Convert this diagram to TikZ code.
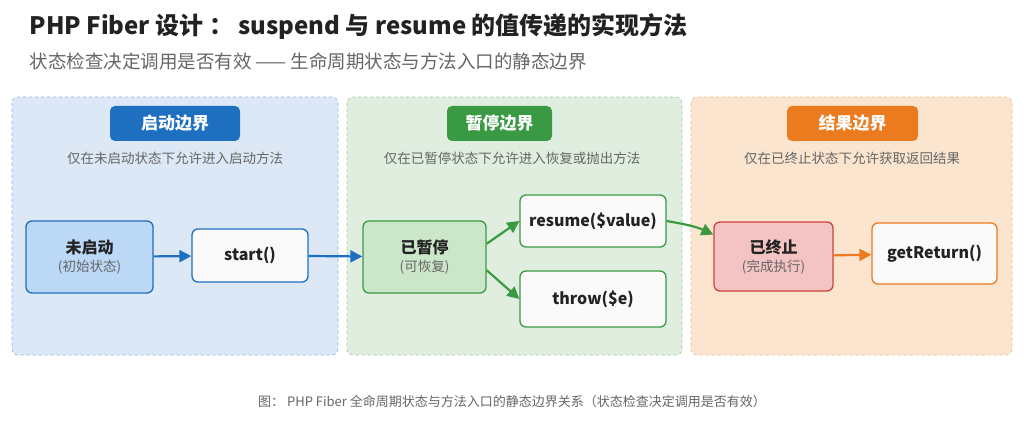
\documentclass[tikz,border=0pt]{standalone}
\usepackage{fontspec}
\setmainfont{Noto Sans CJK SC}
\usetikzlibrary{arrows.meta}
\definecolor{bluef}{HTML}{DCE8F5}\definecolor{blued}{HTML}{1E6FC0}\definecolor{bluel}{HTML}{BCD8F7}
\definecolor{greenf}{HTML}{E0EEDF}\definecolor{greend}{HTML}{3A9A44}\definecolor{greenl}{HTML}{CBE6C8}
\definecolor{orangef}{HTML}{FBE5CF}\definecolor{oranged}{HTML}{EC7A1E}
\definecolor{redf}{HTML}{F4C3C3}\definecolor{redd}{HTML}{D0423A}
\definecolor{txt}{HTML}{222222}\definecolor{gr}{HTML}{666666}
\newcommand\subtxt[1]{{\fontsize{13.5}{16}\selectfont\mdseries\color{gr}#1}}
\begin{document}
\begin{tikzpicture}[x=1pt,y=-1pt,
 panel/.style={draw=#1,dashed,rounded corners=6pt,line width=0.6pt},
 badge/.style={fill=#1,rounded corners=5pt,text=white,font=\fontsize{17}{17}\selectfont\bfseries,minimum width=130pt,minimum height=35pt},
 desc/.style={text=gr,font=\fontsize{13.5}{13.5}\selectfont},
 box/.style={draw=#1,line width=1.3pt,rounded corners=6pt,align=center,text=txt,font=\fontsize{16}{19}\selectfont\bfseries},
 arr/.style={draw=#1,line width=2.2pt,-{Triangle[length=12pt,width=12pt]}}]
\fill[white] (0,0) rectangle (1024,427);
\useasboundingbox (0,0) rectangle (1024,427);
\node[anchor=west,text=txt,font=\fontsize{24}{24}\selectfont\bfseries] (title) at (26,27) {PHP Fiber 设计 ： suspend 与 resume 的值传递的实现方法};
\node[anchor=west,text=gr,font=\fontsize{18.5}{18.5}\selectfont] (subt) at (26,61) {状态检查决定调用是否有效 —— 生命周期状态与方法入口的静态边界};
\filldraw[panel=bluel!80!blue,fill=bluef] (12,97) rectangle (338,355);
\filldraw[panel=greend!50,fill=greenf] (347,97) rectangle (682,355);
\filldraw[panel=oranged!50,fill=orangef] (691,97) rectangle (1012,355);
\node[badge=blued] (b1) at (175,123.5) {启动边界};
\node[badge=greend,minimum width=105pt] (b2) at (499.5,123.5) {暂停边界};
\node[badge=oranged,minimum width=131pt] (b3) at (852.5,123.5) {结果边界};
\node[desc] (d1) at (175,158) {仅在未启动状态下允许进入启动方法};
\node[desc] (d2) at (512,158) {仅在已暂停状态下允许进入恢复或抛出方法};
\node[desc] (d3) at (852,158) {仅在已终止状态下允许获取返回结果};
\node[box=blued,fill=bluel,minimum width=127pt,minimum height=72pt] (n1) at (89.5,257) {未启动\\[-1pt]\subtxt{(初始状态)}};
\node[box=blued,fill=white!96!gray,minimum width=116pt,minimum height=53pt] (n2) at (250,255.5) {start()};
\node[box=greend,fill=greenl,minimum width=123pt,minimum height=72pt] (n3) at (424.5,257) {已暂停\\[-1pt]\subtxt{(可恢复)}};
\node[box=greend,fill=white!96!gray,minimum width=146pt,minimum height=52pt] (n4) at (593,221) {resume(\$value)};
\node[box=greend,fill=white!96!gray,minimum width=146pt,minimum height=56pt] (n5) at (593,299) {throw(\$e)};
\node[box=redd,fill=redf,minimum width=119pt,minimum height=69pt] (n6) at (773.5,256.5) {已终止\\[-1pt]\subtxt{(完成执行)}};
\node[box=oranged,fill=white!96!gray,minimum width=125pt,minimum height=61pt] (n7) at (934.5,253.5) {getReturn()};
\draw[arr=blued] (n1) -- (n2);
\draw[arr=blued] (n2) -- (n3);
\draw[arr=greend] (n3.12) -- (n4.west);
\draw[arr=greend] (n3.-12) -- (n5.west);
\draw[arr=greend] (n4.east) to[out=-10,in=155] (n6.160);
\draw[arr=oranged] (n6) -- (n7);
\node[text=gr,font=\fontsize{13}{13}\selectfont] (cap) at (512,402) {图： PHP Fiber 全命周期状态与方法入口的静态边界关系（状态检查决定调用是否有效）};
\end{tikzpicture}
\end{document}
